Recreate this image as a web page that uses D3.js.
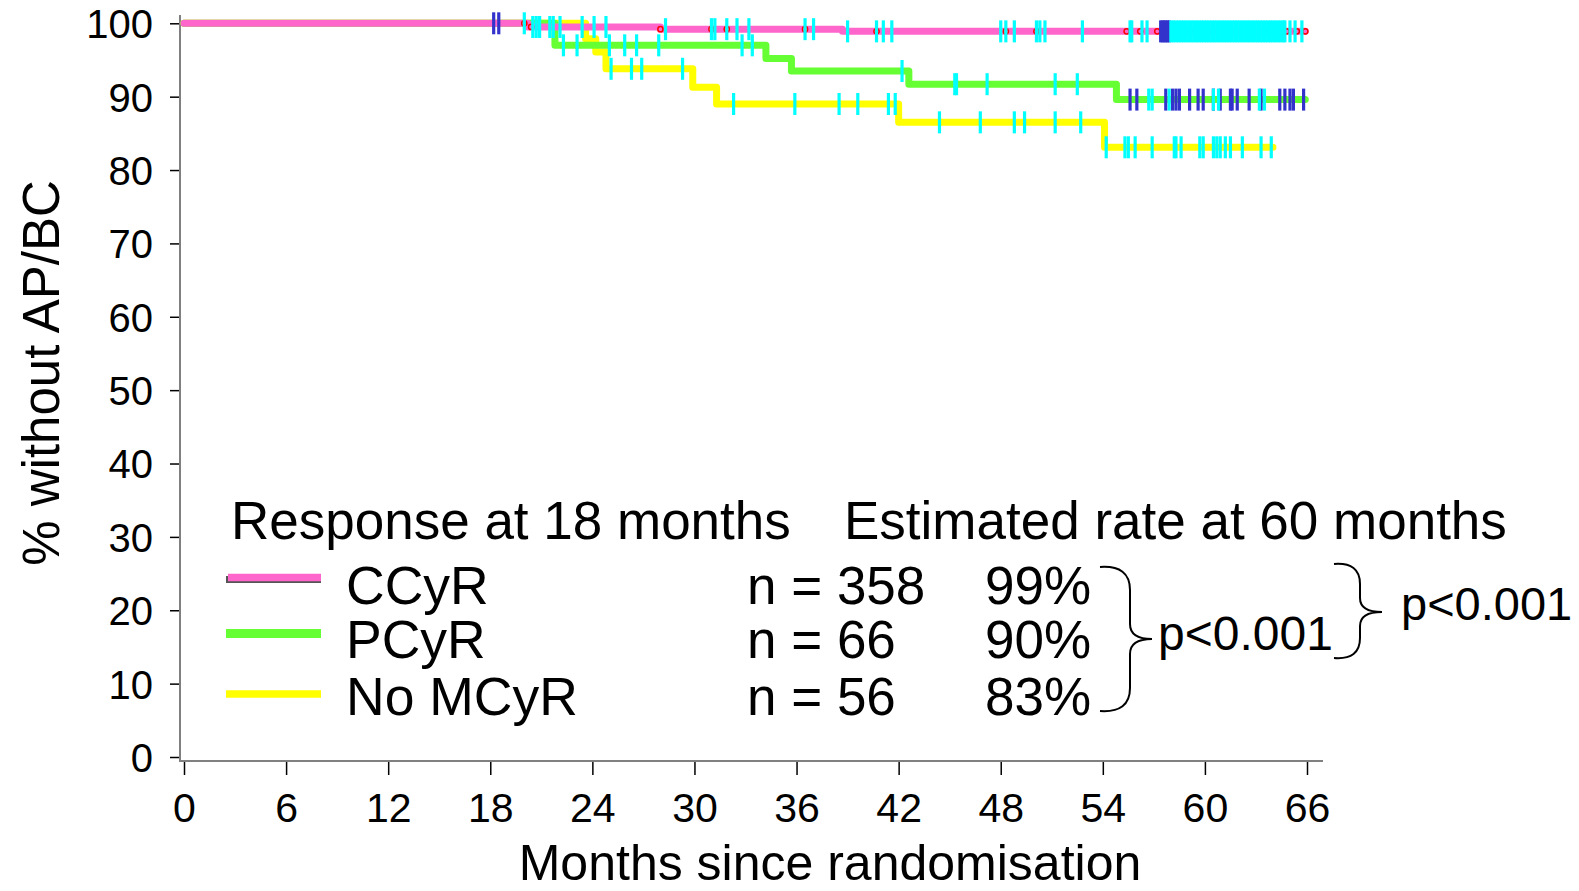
<!DOCTYPE html>
<html>
<head>
<meta charset="utf-8">
<script src="https://cdn.jsdelivr.net/npm/d3@7"></script>
<style>
  html, body { margin: 0; padding: 0; background: #fff; }
  svg { display: block; }
  text { font-family: "Liberation Sans", Arial, sans-serif; fill: #000; }
</style>
</head>
<body>
<svg id="chart" width="1579" height="891"></svg>
<script>
// ---------------- DATA ----------------
const xTickValues = [0, 6, 12, 18, 24, 30, 36, 42, 48, 54, 60, 66];
const yTickValues = [0, 10, 20, 30, 40, 50, 60, 70, 80, 90, 100];

const seriesNames = ["CCyR", "PCyR", "No MCyR"];
const seriesN = ["n = 358", "n = 66", "n = 56"];
const seriesRate = ["99%", "90%", "83%"];
const seriesColors = ["#ff66cc", "#66ff33", "#ffff00"];

// Kaplan-Meier step curves (months, % without AP/BC)
const ccyrTimes = [0, 20.2, 28.0, 38.7, 65.9];
const ccyrSurv  = [100, 99.5, 99.2, 98.9, 98.9];
const pcyrTimes = [0, 21.8, 34.2, 35.7, 42.6, 54.8, 65.9];
const pcyrSurv  = [100, 97.0, 95.2, 93.5, 91.7, 89.6, 89.6];
const nomcyrTimes = [0, 23.6, 24.2, 24.8, 29.9, 31.3, 42.0, 54.1, 64.0];
const nomcyrSurv  = [100, 97.9, 96.1, 93.8, 91.3, 89.0, 86.5, 83.1, 83.1];

// censoring marks (months)
const ccyrCensCyan = [20.0, 20.5, 20.7, 20.9, 21.5, 21.7, 22.1, 23.4, 24.1, 24.8, 28.3, 31.0, 31.2, 31.9,
  32.5, 33.2, 36.5, 37.0, 39.0, 40.7, 41.1, 41.6, 48.0, 48.3, 48.8, 50.1, 50.3, 50.6, 52.8, 55.6, 55.7,
  56.3, 56.6,
  58.0, 58.15, 58.3, 58.45, 58.6, 58.75, 58.9, 59.05, 59.2, 59.35, 59.5, 59.65, 59.8, 59.95, 60.1, 60.25,
  60.4, 60.55, 60.7, 60.85, 61.0, 61.15, 61.3, 61.45, 61.6, 61.75, 61.9, 62.05, 62.2, 62.35, 62.5, 62.65,
  62.8, 62.95, 63.1, 63.25, 63.4, 63.55, 63.7, 63.85, 64.0, 64.15, 64.3, 64.45, 64.6, 64.7,
  65.0, 65.3, 65.7];
const ccyrCensBlue = [18.2, 18.5, 57.4, 57.5, 57.6, 57.7, 57.8, 57.9];
const ccyrCensRed = [20.0, 20.4, 28.0, 31.0, 31.9, 36.5, 40.7, 48.3, 50.1, 55.4, 56.2, 57.2, 64.8, 65.4, 65.9];

const pcyrCensCyan = [22.3, 23.1, 25.0, 25.9, 26.6, 27.9, 32.8, 33.4, 42.2, 45.3, 45.4, 47.2, 51.2, 52.5,
  56.7, 56.9, 57.9, 60.5, 60.8, 63.2, 63.5];
const pcyrCensBlue = [55.6, 56.0, 57.7, 58.1, 58.3, 58.5, 59.1, 59.6, 59.9, 60.5, 60.9, 61.5, 61.6, 61.9,
  62.6, 63.3, 64.4, 64.7, 65.0, 65.2, 65.8];

const nomcyrCensCyan = [25.1, 26.3, 26.9, 29.3, 32.3, 35.9, 38.5, 39.6, 41.4, 41.8, 44.4, 46.8, 48.8, 49.4,
  51.2, 52.7, 54.2, 55.3, 55.5, 55.9, 56.9, 58.2, 58.3, 58.6, 59.7, 59.9, 60.5, 60.7, 60.9, 61.2, 61.5,
  62.2, 63.3, 63.9];

// ---------------- CHART ----------------
const svg = d3.select("#chart");
const x = d3.scaleLinear().domain([0, 66]).range([184, 1307]);
const y = d3.scaleLinear().domain([0, 100]).range([757, 23.3]);
const FONT = '"Liberation Sans", Arial, sans-serif';

// axes
const yAxisG = svg.append("g").attr("transform", "translate(180,0)")
  .call(d3.axisLeft(y).tickValues(yTickValues).tickSize(10).tickSizeOuter(0).tickPadding(17));
yAxisG.select(".domain").remove();
yAxisG.selectAll(".tick line").attr("stroke", "#000").attr("stroke-width", 1.5);
yAxisG.selectAll(".tick text").attr("font-size", 40).attr("font-family", FONT).attr("dy", "0.36em");
svg.append("line").attr("x1", 180).attr("x2", 180).attr("y1", 15).attr("y2", 762)
  .attr("stroke", "#808080").attr("stroke-width", 2);

const xAxisG = svg.append("g").attr("transform", "translate(0,761)")
  .call(d3.axisBottom(x).tickValues(xTickValues).tickSize(14).tickSizeOuter(0));
xAxisG.select(".domain").remove();
xAxisG.selectAll(".tick line").attr("stroke", "#000").attr("stroke-width", 1.5);
xAxisG.selectAll(".tick text").attr("font-size", 41).attr("font-family", FONT)
  .attr("y", 61).attr("dy", 0);
svg.append("line").attr("x1", 179).attr("x2", 1323).attr("y1", 761).attr("y2", 761)
  .attr("stroke", "#808080").attr("stroke-width", 2);

// axis titles
svg.append("text").attr("x", 830).attr("y", 880).attr("text-anchor", "middle")
  .attr("font-size", 50).text("Months since randomisation");
svg.append("text").attr("transform", "translate(59,373) rotate(-90)").attr("text-anchor", "middle")
  .attr("font-size", 51).text("% without AP/BC");

// curves
const series = [
  { times: nomcyrTimes, surv: nomcyrSurv, color: seriesColors[2], width: 7 },
  { times: pcyrTimes, surv: pcyrSurv, color: seriesColors[1], width: 7 },
  { times: ccyrTimes, surv: ccyrSurv, color: seriesColors[0], width: 7 }
];
const line = d3.line().x(d => x(d[0])).y(d => y(d[1])).curve(d3.curveStepAfter);
series.forEach(s => {
  const pts = s.times.map((t, i) => [t, s.surv[i]]);
  svg.append("path").attr("d", line(pts)).attr("fill", "none")
    .attr("stroke", s.color).attr("stroke-width", s.width)
    .attr("stroke-linejoin", "round").attr("stroke-linecap", "round");
});

function survAt(times, surv, t) {
  let v = surv[0];
  for (let i = 0; i < times.length; i++) { if (times[i] <= t) v = surv[i]; }
  return v;
}
function drawTicks(arr, times, surv, color) {
  svg.append("g").selectAll("line").data(arr).join("line")
    .attr("x1", d => x(d)).attr("x2", d => x(d))
    .attr("y1", d => y(survAt(times, surv, d)) - 11)
    .attr("y2", d => y(survAt(times, surv, d)) + 11)
    .attr("stroke", color).attr("stroke-width", 3.2);
}
// red small circles on CCyR
svg.append("g").selectAll("circle").data(ccyrCensRed).join("circle")
  .attr("cx", d => x(d)).attr("cy", d => y(survAt(ccyrTimes, ccyrSurv, d)))
  .attr("r", 2.6).attr("fill", "none").attr("stroke", "#ff0000").attr("stroke-width", 1.5);

drawTicks(nomcyrCensCyan, nomcyrTimes, nomcyrSurv, "#00ffff");
drawTicks(pcyrCensBlue, pcyrTimes, pcyrSurv, "#3333cc");
drawTicks(pcyrCensCyan, pcyrTimes, pcyrSurv, "#00ffff");
drawTicks(ccyrCensBlue, ccyrTimes, ccyrSurv, "#3333cc");
drawTicks(ccyrCensCyan, ccyrTimes, ccyrSurv, "#00ffff");

// legend
svg.append("text").attr("x", 231).attr("y", 539).attr("font-size", 53).text("Response at 18 months");
svg.append("text").attr("x", 844).attr("y", 539).attr("font-size", 53).text("Estimated rate at 60 months");

const legBase = [604, 658, 715];
const legLineY = [577.5, 633.5, 694];
svg.append("line").attr("x1", 226).attr("x2", 321).attr("y1", legLineY[0] + 2).attr("y2", legLineY[0] + 2)
  .attr("stroke", "#555").attr("stroke-width", 7);
seriesNames.forEach((name, i) => {
  svg.append("line").attr("x1", i === 0 ? 228 : 226).attr("x2", 321)
    .attr("y1", legLineY[i]).attr("y2", legLineY[i])
    .attr("stroke", seriesColors[i]).attr("stroke-width", i === 1 ? 9 : 7.5);
  svg.append("text").attr("x", 346).attr("y", legBase[i]).attr("font-size", 53.5).text(name);
  svg.append("text").attr("x", 747).attr("y", legBase[i]).attr("font-size", 53).text(seriesN[i]);
  svg.append("text").attr("x", 985).attr("y", legBase[i]).attr("font-size", 53).text(seriesRate[i]);
});

// braces and p-values
svg.append("path")
  .attr("d", "M1100,567 Q1130,565 1130,590 L1130,624 Q1130,639 1152,639 Q1130,639 1130,654 L1130,688 Q1130,713 1100,711")
  .attr("fill", "none").attr("stroke", "#000").attr("stroke-width", 2);
svg.append("text").attr("x", 1158).attr("y", 650).attr("font-size", 48).text("p<0.001");
svg.append("path")
  .attr("d", "M1334,564 Q1360,562 1360,584 L1360,598 Q1360,612 1382,612 Q1360,612 1360,626 L1360,638 Q1360,660 1334,658")
  .attr("fill", "none").attr("stroke", "#000").attr("stroke-width", 2);
svg.append("text").attr("x", 1401).attr("y", 620).attr("font-size", 47).text("p<0.001");
</script>
</body>
</html>
